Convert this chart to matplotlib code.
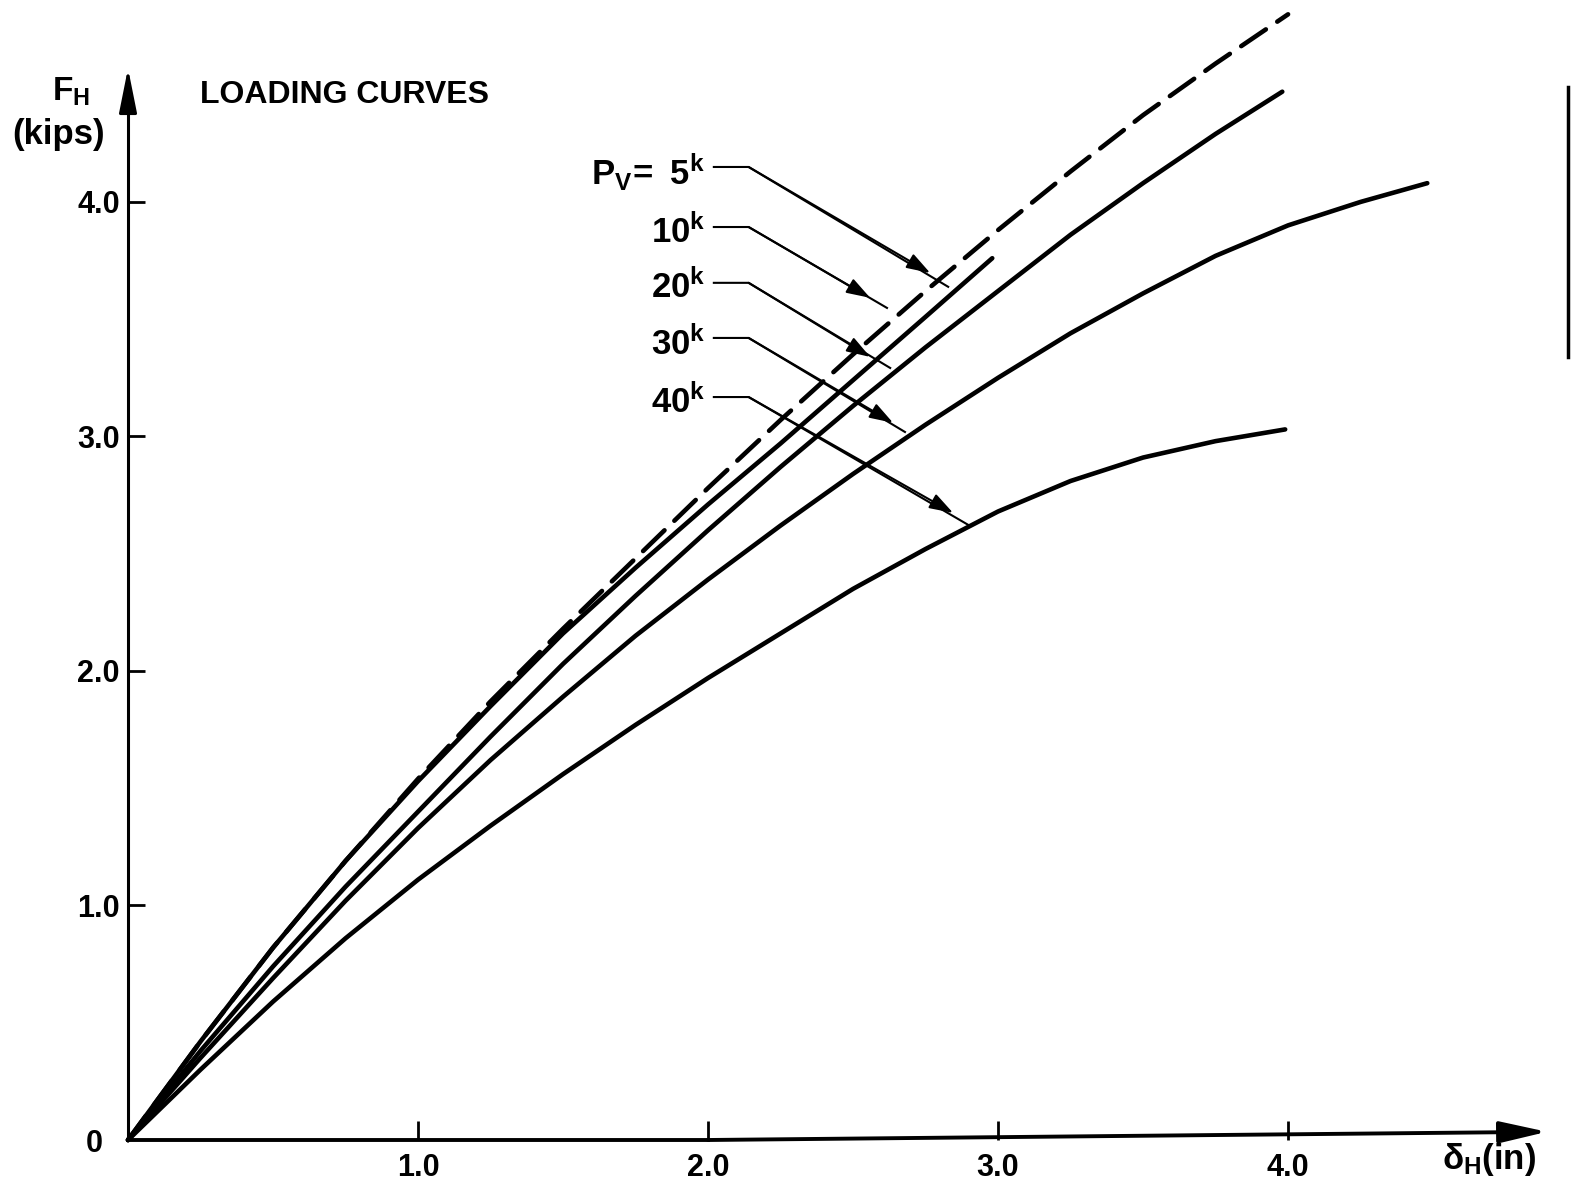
import numpy as np
import matplotlib.pyplot as plt

# Loading curves, F_H (kips) against delta_H (in)
x_5k = [0, 0.25, 0.5, 0.75, 1.0, 1.25, 1.5, 1.75, 2.0, 2.25, 2.5, 2.75, 3.0, 3.25, 3.5, 3.75, 4.0]
fh_5k = [0, 0.42, 0.82, 1.19, 1.54, 1.87, 2.18, 2.48, 2.78, 3.07, 3.35, 3.62, 3.88, 4.13, 4.37, 4.59, 4.80]

x_10k = [0, 0.25, 0.5, 0.75, 1.0, 1.25, 1.5, 1.75, 2.0, 2.25, 2.5, 2.75, 2.98]
fh_10k = [0, 0.42, 0.82, 1.19, 1.53, 1.85, 2.16, 2.44, 2.71, 2.97, 3.24, 3.51, 3.76]

x_20k = [0, 0.25, 0.5, 0.75, 1.0, 1.25, 1.5, 1.75, 2.0, 2.25, 2.5, 2.75, 3.0, 3.25, 3.5, 3.75, 3.98]
fh_20k = [0, 0.38, 0.74, 1.08, 1.40, 1.72, 2.03, 2.32, 2.60, 2.87, 3.13, 3.38, 3.62, 3.86, 4.08, 4.29, 4.47]

x_30k = [0, 0.25, 0.5, 0.75, 1.0, 1.25, 1.5, 1.75, 2.0, 2.25, 2.5, 2.75, 3.0, 3.25, 3.5, 3.75, 4.0, 4.25, 4.48]
fh_30k = [0, 0.35, 0.69, 1.02, 1.33, 1.62, 1.89, 2.15, 2.39, 2.62, 2.84, 3.05, 3.25, 3.44, 3.61, 3.77, 3.90, 4.00, 4.08]

x_40k = [0, 0.25, 0.5, 0.75, 1.0, 1.25, 1.5, 1.75, 2.0, 2.25, 2.5, 2.75, 3.0, 3.25, 3.5, 3.75, 3.99]
fh_40k = [0, 0.30, 0.59, 0.86, 1.11, 1.34, 1.56, 1.77, 1.97, 2.16, 2.35, 2.52, 2.68, 2.81, 2.91, 2.98, 3.03]

x_ticks = [1.0, 2.0, 3.0, 4.0]
x_ticklabels = ["1.0", "2.0", "3.0", "4.0"]
y_ticks = [0, 1.0, 2.0, 3.0, 4.0]
y_ticklabels = ["0  ", "1.0", "2.0", "3.0", "4.0"]

pv_labels = [r"$\mathrm{P_V\!=\ 5^k}$", r"$\mathrm{10^k}$", r"$\mathrm{20^k}$",
             r"$\mathrm{30^k}$", r"$\mathrm{40^k}$"]

# leader layout (axis units): label baseline, horizontal start/bend, arrow tip, end of stem
lead_y = [4.149, 3.893, 3.655, 3.420, 3.168]
text_y = [4.073, 3.825, 3.591, 3.348, 3.100]
lead_x0 = 2.02
lead_x1 = 2.14
tip_pts = [(2.766, 3.697), (2.559, 3.591), (2.559, 3.339), (2.638, 3.058), (2.845, 2.674)]
end_pts = [(2.828, 3.638), (2.617, 3.548), (2.628, 3.292), (2.679, 3.019), (2.897, 2.623)]

plt.rcParams['font.family'] = ['Liberation Sans', 'DejaVu Sans']
plt.rcParams['font.weight'] = 'bold'
plt.rcParams['mathtext.fontset'] = 'custom'
plt.rcParams['mathtext.rm'] = 'Liberation Sans:bold'
plt.rcParams['mathtext.it'] = 'Liberation Sans:bold'
plt.rcParams['mathtext.bf'] = 'Liberation Sans:bold'

fig = plt.figure(figsize=(15.72, 11.87), dpi=100)
ax = fig.add_axes([0, 0, 1, 1])
ax.set_xlim(-0.4414, 4.979)
ax.set_ylim(-0.2004, 4.861)

lw = 3.3
ax.plot(x_5k, fh_5k, color="black", lw=lw, linestyle=(0, (6.5, 3.0)),
        dash_capstyle="round", solid_joinstyle="round")
for xs, ys in [(x_10k, fh_10k), (x_20k, fh_20k), (x_30k, fh_30k), (x_40k, fh_40k)]:
    ax.plot(xs, ys, color="black", lw=lw, solid_capstyle="round", solid_joinstyle="round")

# axes drawn through the origin with arrow heads
for side in ["top", "right"]:
    ax.spines[side].set_visible(False)
ax.spines["left"].set_position(("data", 0))
ax.spines["bottom"].set_position(("data", 0))
ax.spines["left"].set_bounds(0, 4.45)
ax.spines["bottom"].set_bounds(0, 2.0)
ax.spines["left"].set_linewidth(2.2)
ax.spines["bottom"].set_linewidth(2.8)

ax.annotate("", xy=(0, 4.57), xytext=(0, 4.40),
            arrowprops=dict(arrowstyle="-|>,head_length=1.35,head_width=0.27",
                            color="black", lw=2.2, mutation_scale=20, shrinkA=0, shrinkB=0))
# the drawn x axis rises a little towards its arrow head
ax.annotate("", xy=(4.893, 0.035), xytext=(2.0, 0),
            arrowprops=dict(arrowstyle="-|>,head_length=1.45,head_width=0.33",
                            color="black", lw=2.8, mutation_scale=20, shrinkA=0, shrinkB=0))

ax.set_xticks(x_ticks)
ax.set_xticklabels(x_ticklabels)
ax.set_yticks(y_ticks)
ax.set_yticklabels(y_ticklabels)
ax.tick_params(axis="x", direction="in", length=14, width=2, pad=9, labelsize=22)
ax.tick_params(axis="y", direction="in", length=12, width=2, pad=6, labelsize=22)
ax.yaxis.get_major_ticks()[0].tick1line.set_visible(False)

ax.text(-0.197, 4.47, r"$\mathrm{F_H}$", ha="center", va="center", fontsize=24)
ax.text(-0.238, 4.286, "(kips)", ha="center", va="center", fontsize=25)
ax.text(0.248, 4.456, "LOADING CURVES", ha="left", va="center", fontsize=23)
ax.text(4.693, -0.125, r"$\delta_H$(in)", ha="center", va="baseline", fontsize=25)

for lab, ly, ty, tip, end in zip(pv_labels, lead_y, text_y, tip_pts, end_pts):
    ax.text(1.99, ty, lab, ha="right", va="baseline", fontsize=25)
    ax.plot([lead_x0, lead_x1, end[0]], [ly, ly, end[1]], color="black", lw=1.5)
    ax.annotate("", xy=tip, xytext=(lead_x1, ly),
                arrowprops=dict(arrowstyle="-|>,head_length=0.9,head_width=0.3",
                                color="black", lw=1.5, mutation_scale=16, shrinkA=0, shrinkB=0))

# scan edge mark at the right border
ax.plot([4.966, 4.966], [4.49, 3.34], color="black", lw=2.5, clip_on=False)

fig.savefig("out.png", dpi=100, facecolor="white")
